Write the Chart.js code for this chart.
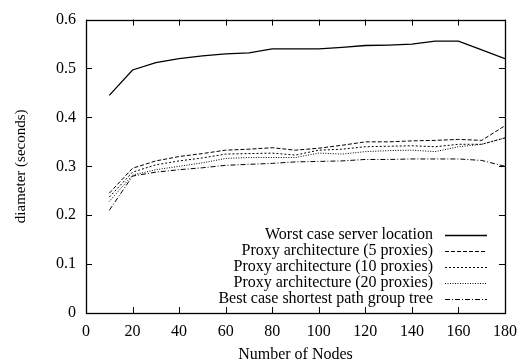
<!DOCTYPE html>
<html>
<head>
<meta charset="utf-8">
<script src="https://cdn.jsdelivr.net/npm/chart.js@4.4.0/dist/chart.umd.min.js"></script>
<style>
  html, body { margin: 0; padding: 0; background: #fff; }
  #wrap { width: 527px; height: 364px; }
</style>
</head>
<body>
<div id="wrap"><canvas id="diameterChart" width="527" height="364"></canvas></div>
<script>
// number of nodes on the x axis
const nodes = [10, 20, 30, 40, 50, 60, 70, 80, 90, 100, 110, 120, 130, 140, 150, 160, 170, 180];

const worstCase = [0.445, 0.497, 0.512, 0.520, 0.526, 0.530, 0.532, 0.540, 0.540, 0.540, 0.543, 0.547, 0.548, 0.550, 0.556, 0.556, 0.538, 0.520];
const proxy5 = [0.245, 0.296, 0.311, 0.320, 0.326, 0.333, 0.335, 0.338, 0.333, 0.337, 0.343, 0.350, 0.350, 0.352, 0.353, 0.355, 0.353, 0.383];
const proxy10 = [0.237, 0.288, 0.303, 0.311, 0.317, 0.325, 0.326, 0.327, 0.323, 0.333, 0.335, 0.340, 0.341, 0.342, 0.340, 0.345, 0.345, 0.358];
const proxy20 = [0.228, 0.282, 0.293, 0.300, 0.307, 0.316, 0.318, 0.318, 0.318, 0.327, 0.325, 0.330, 0.332, 0.333, 0.330, 0.340, 0.345, 0.358];
const bestCase = [0.210, 0.280, 0.288, 0.293, 0.297, 0.302, 0.304, 0.306, 0.309, 0.310, 0.311, 0.314, 0.314, 0.315, 0.315, 0.315, 0.312, 0.300];

const seriesLabels = [
    'Worst case server location',
    'Proxy architecture (5 proxies)',
    'Proxy architecture (10 proxies)',
    'Proxy architecture (20 proxies)',
    'Best case shortest path group tree'
];

const xTicks = [0, 20, 40, 60, 80, 100, 120, 140, 160, 180];
const yTicks = [0, 0.1, 0.2, 0.3, 0.4, 0.5, 0.6];

const serif = '"Liberation Serif", "Times New Roman", serif';
const dashes = [[], [4, 2], [2, 2], [1, 1.5], [5, 2, 1, 2]];
const widths = [1.3, 1, 1, 1, 1];

function toPoints(vals) {
    return nodes.map((n, i) => ({ x: n, y: vals[i] }));
}

const allSeries = [worstCase, proxy5, proxy10, proxy20, bestCase];

// gnuplot style: inward ticks on all four sides + legend with sample on the right
const gnuplotFrame = {
    id: 'gnuplotFrame',
    afterDatasetsDraw(chart) {
        const ctx = chart.ctx;
        const a = chart.chartArea;
        const xs = chart.scales.x, ys = chart.scales.y;
        ctx.save();
        ctx.strokeStyle = '#000';
        ctx.lineWidth = 1;
        ctx.setLineDash([]);
        ctx.beginPath();
        xTicks.forEach(v => {
            const px = Math.round(xs.getPixelForValue(v)) + 0.5;
            ctx.moveTo(px, a.bottom); ctx.lineTo(px, a.bottom - 6);
            ctx.moveTo(px, a.top); ctx.lineTo(px, a.top + 6);
        });
        yTicks.forEach(v => {
            const py = Math.round(ys.getPixelForValue(v)) + 0.5;
            ctx.moveTo(a.left, py); ctx.lineTo(a.left + 6, py);
            ctx.moveTo(a.right, py); ctx.lineTo(a.right - 6, py);
        });
        ctx.stroke();
        ctx.lineWidth = 1.3;
        ctx.strokeRect(Math.round(a.left) + 0.5, Math.round(a.top) + 0.5,
            Math.round(a.right - a.left), Math.round(a.bottom - a.top));

        // legend
        ctx.font = '16px ' + serif;
        ctx.fillStyle = '#000';
        ctx.textAlign = 'right';
        ctx.textBaseline = 'middle';
        seriesLabels.forEach((lab, i) => {
            const y = 235 + i * 16;
            ctx.fillText(lab, 433, y);
            ctx.beginPath();
            ctx.setLineDash(dashes[i]);
            ctx.lineWidth = widths[i];
            ctx.moveTo(445, y + 0.5);
            ctx.lineTo(487, y + 0.5);
            ctx.stroke();
        });
        ctx.restore();
    }
};

new Chart(document.getElementById('diameterChart').getContext('2d'), {
    type: 'line',
    data: {
        datasets: allSeries.map((vals, i) => ({
            label: seriesLabels[i],
            data: toPoints(vals),
            borderColor: '#000',
            borderWidth: widths[i],
            borderDash: dashes[i],
            pointRadius: 0,
            fill: false,
            tension: 0
        }))
    },
    options: {
        responsive: false,
        animation: false,
        layout: { padding: { top: 10, right: 22, left: 0, bottom: 0 } },
        plugins: {
            legend: { display: false },
            tooltip: { enabled: false }
        },
        scales: {
            x: {
                type: 'linear',
                min: 0,
                max: 180,
                afterBuildTicks: s => { s.ticks = xTicks.map(v => ({ value: v })); },
                afterFit: s => { s.height = 51; },
                grid: { display: false, drawTicks: false },
                border: { display: false },
                ticks: {
                    color: '#000',
                    padding: 9,
                    font: { family: serif, size: 16 },
                    callback: v => String(v)
                },
                title: {
                    display: true,
                    text: 'Number of Nodes',
                    color: '#000',
                    font: { family: serif, size: 16 },
                    padding: { top: 2, bottom: 0 }
                }
            },
            y: {
                type: 'linear',
                min: 0,
                max: 0.6,
                afterBuildTicks: s => { s.ticks = yTicks.map(v => ({ value: v })); },
                afterFit: s => { s.width = 86; },
                grid: { display: false, drawTicks: false },
                border: { display: false },
                ticks: {
                    color: '#000',
                    padding: 10,
                    font: { family: serif, size: 16 },
                    callback: v => (v === 0 ? '0' : v.toFixed(1))
                },
                title: {
                    display: true,
                    text: 'diameter (seconds)',
                    color: '#000',
                    font: { family: serif, size: 15 },
                    padding: { top: 12, bottom: 0 }
                }
            }
        }
    },
    plugins: [gnuplotFrame]
});
</script>
</body>
</html>
